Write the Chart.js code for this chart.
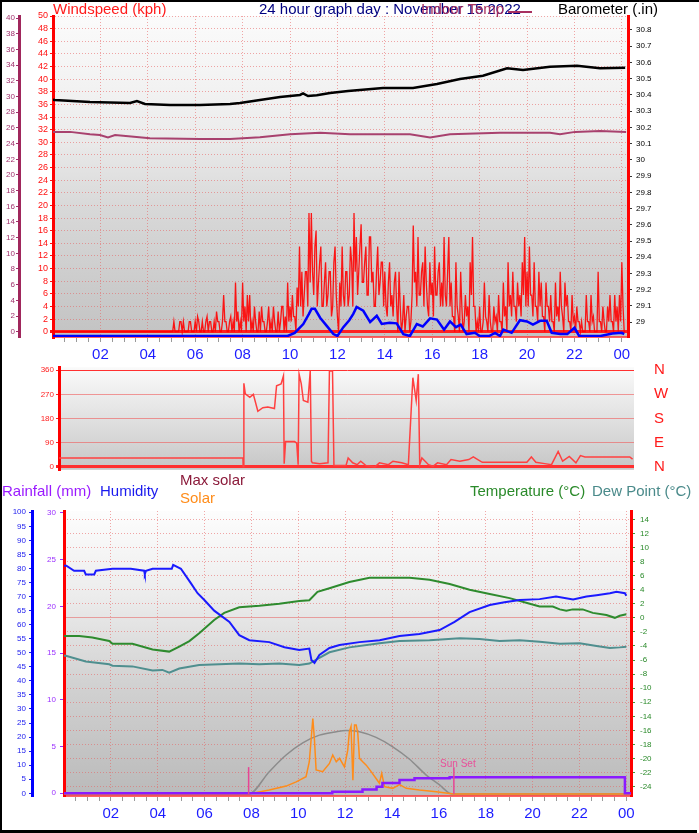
<!DOCTYPE html>
<html>
<head>
<meta charset="utf-8">
<title>24 hour graph</title>
<script src="https://cdn.jsdelivr.net/npm/chart.js@4.4.0/dist/chart.umd.min.js"></script>
<style>
body { margin: 0; background: #fff; width: 699px; height: 833px; position: relative; overflow: hidden; font-family: Arial, "Liberation Sans", sans-serif; }
canvas { position: absolute; left: 0; }
.t { position: absolute; font-size: 15px; line-height: 15px; white-space: nowrap; }
.bar { position: absolute; background: #000; }
</style>
</head>
<body>
<canvas id="c1" style="top:0" width="699" height="365"></canvas>
<canvas id="c2" style="top:362px" width="699" height="113"></canvas>
<canvas id="c3" style="top:475px" width="699" height="355"></canvas>

<div class="t" style="left:53px;top:1px;color:#ff1a1a">Windspeed (kph)</div>
<div class="t" style="left:259px;top:1px;color:#000080">24 hour graph day : November 15 2022</div>
<div class="t" style="left:421px;top:1px;color:#a8305f">Indoor Temp</div>
<div style="position:absolute;left:508px;top:11px;width:24px;height:2px;background:#a8305f"></div>
<div class="t" style="left:558px;top:1px;color:#000">Barometer (.in)</div>

<div class="t" style="left:2px;top:483px;color:#9a1aff">Rainfall (mm)</div>
<div class="t" style="left:100px;top:483px;color:#1a1aee">Humidity</div>
<div class="t" style="left:180px;top:472px;color:#8b1a3a">Max solar</div>
<div class="t" style="left:180px;top:490px;color:#ff8c1a">Solar</div>
<div class="t" style="left:470px;top:483px;color:#2a8a2a">Temperature (°C)</div>
<div class="t" style="left:592px;top:483px;color:#4a8a8a">Dew Point (°C)</div>

<div class="bar" style="left:0;top:0;width:699px;height:2px"></div>
<div class="bar" style="left:0;top:0;width:2px;height:833px"></div>
<div class="bar" style="left:0;top:830px;width:697px;height:3px"></div>

<script>
var FONT = 'Arial, "Liberation Sans", sans-serif';
Chart.defaults.font.family = FONT;

// x axis (hours since midnight)
var hourTicks = [2, 4, 6, 8, 10, 12, 14, 16, 18, 20, 22, 24];
var hourLabels = ['02', '04', '06', '08', '10', '12', '14', '16', '18', '20', '22', '00'];

// top panel: windspeed / barometer / indoor temp
var windTicks = [0, 2, 4, 6, 8, 10, 12, 14, 16, 18, 20, 22, 24, 26, 28, 30, 32, 34, 36, 38, 40, 42, 44, 46, 48, 50];
var indoorTicks = [0, 2, 4, 6, 8, 10, 12, 14, 16, 18, 20, 22, 24, 26, 28, 30, 32, 34, 36, 38, 40];
var baroTicks = [29, 29.1, 29.2, 29.3, 29.4, 29.5, 29.6, 29.7, 29.8, 29.9, 30, 30.1, 30.2, 30.3, 30.4, 30.5, 30.6, 30.7, 30.8];

// gusts sampled every 3 minutes from 05:00
var gustStart = 5.0, gustStep = 0.05;
var gust = [
  0, 0, 1.6, 0, 0, 0, 0, 1.6, 1.6, 0, 1.6, 0, 0, 0, 0, 1.6, 1.6, 0, 0, 0,
  1.6, 0, 2.4, 1.6, 0, 0, 1.6, 0, 0, 1.6, 2.4, 0, 1.6, 1.6, 0, 0, 1.6, 0, 3.2, 1.6,
  1.6, 0, 0, 1.6, 5.8, 1.6, 1.6, 0, 0, 1.6, 2.4, 0, 1.6, 0, 7.8, 1.6, 3.2, 0, 1.6, 0,
  7.8, 1.6, 4, 0, 5.8, 1.6, 5.8, 0, 1.6, 0, 4, 1.6, 0, 0, 3.2, 0, 4, 1.6, 1.6, 0,
  0, 1.6, 4, 0, 1.6, 0, 4, 1.6, 0, 0, 3.2, 0, 1.6, 4, 4, 0, 2.4, 0, 7.8, 1.6,
  4, 1.6, 5.8, 2.4, 2.4, 0, 7, 4, 13.5, 4, 9.5, 2.4, 5.8, 9.5, 9.5, 4, 18.8, 7.8, 18.8, 9.5,
  5.8, 13.5, 16, 4, 7.8, 11, 13.5, 4, 4, 7.8, 11, 4, 5.8, 9.5, 9.5, 2.4, 4, 11, 13.5, 5.8,
  2.4, 0, 7.8, 4, 13.5, 5.8, 4, 9.5, 9.5, 4, 5.8, 13.5, 11, 4, 18.8, 9.5, 15, 5.8, 9.5, 13.5,
  17, 7.8, 7.8, 11, 13.5, 5.8, 5.8, 15, 15, 7.8, 9.5, 4, 4, 9.5, 13.5, 5.8, 7.8, 11, 11, 4,
  9.5, 4, 2.4, 7.8, 11, 4, 5.8, 2.4, 7.8, 9.5, 4, 0, 9.5, 4, 0, 1.6, 5.8, 0, 2.4, 4,
  4, 0, 1.6, 5.8, 16.8, 7.8, 9.5, 4, 15, 5.8, 5.8, 9.5, 11, 4, 13.5, 7.8, 4, 2.4, 11, 5.8,
  7.8, 2.4, 13.5, 5.8, 5.8, 9.5, 11, 4, 7.8, 4, 15, 5.8, 4, 9.5, 15, 4, 7.8, 2.4, 2.4, 0,
  11, 4, 2.4, 0, 9.5, 4, 0, 1.6, 5.8, 2.4, 4, 0, 11, 5.8, 15, 4, 4, 0, 1.6, 0,
  4, 0, 0, 1.6, 7.8, 2.4, 1.6, 0, 5.8, 1.6, 0, 0, 4, 1.6, 2.4, 0, 5.8, 1.6, 1.6, 0,
  7.8, 2.4, 4, 0, 11, 4, 5.8, 2.4, 9.5, 4, 4, 1.6, 7.8, 4, 5.8, 2.4, 11, 5.8, 15, 4,
  9.5, 4, 13.5, 5.8, 5.8, 2.4, 11, 4, 4, 1.6, 9.5, 4, 7.8, 2.4, 2.4, 0, 7.8, 4, 4, 1.6,
  5.8, 1.6, 1.6, 0, 7.8, 2.4, 4, 1.6, 9.5, 4, 2.4, 0, 7.8, 4, 5.8, 1.6, 1.6, 0, 5.8, 1.6,
  2.4, 0, 4, 1.6, 1.6, 0, 1.6, 0, 0, 0, 5.8, 1.6, 1.6, 0, 5.8, 1.6, 2.4, 0, 0, 0,
  9.5, 1.6, 1.6, 0, 4, 1.6, 0, 0, 4, 1.6, 5.8, 1.6, 1.6, 0, 5.8, 1.6, 4, 0, 5.8, 1.6,
  11, 4, 0, 0
];

var avgHours = [0, 9.9, 10.2, 10.56, 10.8, 10.91, 11.05, 11.27, 11.55, 11.83, 12.0, 12.25, 12.5, 12.67, 12.81, 13.09, 13.38, 13.66, 13.87, 14.2, 14.5, 14.78, 15.06, 15.35, 15.6, 15.91, 16.2, 16.5, 16.75, 17.0, 17.2, 17.45, 17.8, 18.0, 18.4, 18.65, 18.86, 19.0, 19.35, 19.7, 20.0, 20.25, 20.55, 20.83, 21.04, 21.4, 21.7, 22.0, 22.2, 23.1, 23.6, 24.0, 24.1];
var avgValues = [0, 0, 0.5, 1.9, 3.5, 4.3, 4.3, 2.9, 1.6, 0.3, 0, 1.4, 2.5, 3.5, 4.6, 4.0, 2.2, 3.2, 1.9, 2.1, 2.0, 0.3, 0, 1.9, 1.5, 2.8, 2.6, 1.0, 2.3, 1.4, 1.8, 0.3, 0.5, 0, 0, 0.5, 0, 1.0, 0.5, 2.5, 2.3, 1.8, 2.4, 2.4, 0.5, 0.3, 0.3, 1.3, 0, 0, 0.4, 0.5, 0.3];

var baroHours = [0, 0.08, 1.56, 3.25, 3.54, 3.88, 4.94, 6.2, 7.47, 7.89, 8.73, 9.58, 10.0, 10.42, 10.55, 10.76, 11.13, 11.69, 12.45, 13.92, 15.19, 16.2, 17.17, 18.14, 19.16, 19.83, 20.97, 22.11, 23.08, 24.14];
var baroValues = [30.37, 30.369, 30.356, 30.35, 30.362, 30.344, 30.338, 30.338, 30.344, 30.35, 30.369, 30.387, 30.393, 30.4, 30.409, 30.393, 30.398, 30.412, 30.424, 30.443, 30.443, 30.467, 30.498, 30.518, 30.564, 30.554, 30.574, 30.58, 30.564, 30.568];

var indoorHours = [0, 0.08, 0.72, 1.56, 1.98, 2.32, 2.62, 4.09, 6.2, 7.47, 8.73, 10.0, 11.27, 12.53, 13.8, 15.06, 15.91, 16.75, 18.86, 20.97, 21.39, 22.03, 23.08, 24.18];
var indoorValues = [25.5, 25.5, 25.5, 25.2, 25.1, 24.8, 25.1, 24.7, 24.6, 24.6, 24.8, 25.2, 25.4, 25.2, 25.2, 25.2, 24.8, 25.2, 25.4, 25.4, 25.2, 25.5, 25.6, 25.5];

// middle panel: wind direction
var dirTicks = [0, 90, 180, 270, 360];
var dirNames = ['N', 'E', 'S', 'W', 'N'];
var dirHours = [0, 7.76, 7.77, 7.8, 7.86, 8.05, 8.2, 8.39, 8.6, 8.81, 9.09, 9.18, 9.37, 9.47, 9.5, 9.56, 9.94, 10.03, 10.09, 10.13, 10.22, 10.31, 10.5, 10.6, 10.65, 10.69, 11.0, 11.35, 11.41, 11.54, 11.6, 12.11, 12.2, 12.39, 12.58, 12.73, 12.95, 13.33, 13.52, 13.9, 14.09, 14.46, 14.74, 14.93, 15.07, 15.16, 15.22, 15.31, 15.59, 15.78, 15.97, 16.35, 16.54, 16.91, 17.29, 17.48, 17.67, 17.86, 19.74, 19.93, 20.12, 20.49, 20.78, 21.06, 21.25, 21.53, 21.81, 22.0, 22.19, 24.08, 24.2];
var dirValues = [33, 33, 0, 311, 272, 259, 270, 207, 220, 223, 217, 302, 309, 339, 12, 94, 94, 88, 8, 345, 310, 247, 241, 357, 21, 15, 12, 15, 357, 357, 5, 5, 33, 15, 8, 21, 5, 0, 15, 8, 21, 15, 8, 332, 247, 345, 8, 33, 8, 2, 15, 8, 27, 21, 27, 37, 27, 17, 17, 37, 17, 12, 8, 57, 21, 39, 15, 42, 37, 37, 29];

// bottom panel
var humTicks = [0, 5, 10, 15, 20, 25, 30, 35, 40, 45, 50, 55, 60, 65, 70, 75, 80, 85, 90, 95, 100];
var rainTicks = [0, 5, 10, 15, 20, 25, 30];
var tempTicks = [-24, -22, -20, -18, -16, -14, -12, -10, -8, -6, -4, -2, 0, 2, 4, 6, 8, 10, 12, 14];

var humHours = [0, 0.1, 0.43, 0.86, 0.93, 1.29, 1.36, 2.07, 2.85, 3.42, 3.45, 3.5, 3.78, 4.6, 4.66, 4.99, 5.42, 5.7, 5.99, 6.41, 7.06, 7.48, 7.91, 8.76, 9.41, 10.04, 10.47, 10.56, 10.69, 10.9, 11.33, 11.76, 12.61, 13.47, 14.32, 15.17, 16.03, 16.67, 17.31, 18.17, 18.8, 19.45, 20.3, 21.0, 21.73, 22.3, 22.73, 23.3, 23.58, 23.94, 24.0];
var humValues = [81, 81, 79.2, 79.2, 77.9, 77.9, 79.2, 79.9, 79.9, 79.2, 78, 79.2, 79.9, 79.9, 81.3, 79.9, 74.7, 71.2, 68.8, 65, 61, 56.3, 54.5, 53.8, 52, 51, 51.5, 47.4, 46.4, 49.2, 51.7, 52.8, 53.8, 54.5, 56, 56.7, 58.1, 61, 64.5, 67, 68, 68.8, 69.1, 70, 69, 70, 70.5, 71.2, 71.7, 71.2, 70.3];

var tempHours = [0, 0.08, 0.65, 1.21, 1.93, 2.07, 2.92, 3.78, 4.49, 4.92, 5.35, 5.77, 6.41, 6.84, 7.48, 8.34, 9.19, 10.04, 10.47, 10.82, 11.33, 12.18, 13.04, 13.89, 14.75, 15.6, 16.46, 17.31, 18.17, 19.02, 19.88, 20.3, 20.86, 21.16, 21.44, 21.71, 22.14, 22.57, 23.15, 23.51, 23.72, 24.0];
var tempValues = [-2.6, -2.6, -2.6, -2.8, -3.3, -3.7, -3.7, -4.5, -4.8, -4.1, -3.3, -2.2, -0.3, 0.7, 1.5, 1.7, 2.0, 2.4, 2.5, 3.7, 4.2, 5.1, 5.7, 5.7, 5.7, 5.4, 4.8, 4.0, 3.4, 2.8, 2.0, 1.6, 1.6, 1.2, 1.0, 1.2, 1.2, 0.7, 0.4, 0.0, 0.3, 0.5];

var dewHours = [0, 0.08, 0.93, 1.93, 2.07, 2.92, 3.78, 4.2, 4.49, 4.92, 5.77, 6.63, 7.48, 8.34, 9.19, 10.04, 10.47, 10.9, 11.33, 12.18, 13.47, 14.32, 15.6, 16.89, 17.74, 18.59, 19.45, 20.3, 21.16, 22.01, 22.73, 23.3, 23.72, 24.0];
var dewValues = [-5.4, -5.4, -6.2, -6.6, -6.8, -6.9, -7.5, -7.4, -7.8, -7.2, -6.7, -6.6, -6.5, -6.6, -6.5, -6.7, -6.5, -5.7, -4.9, -4.2, -3.6, -3.3, -3.2, -2.9, -3.0, -3.3, -3.2, -3.4, -3.7, -3.6, -4.0, -4.3, -4.2, -4.1];

var rainHours = [0, 11.45, 12.74, 13.34, 13.59, 14.32, 14.96, 16.46, 23.94, 24.2];
var rainValues = [0, 0.15, 0.4, 0.7, 1.1, 1.4, 1.6, 1.7, 0, 0];

var solarHours = [0, 7.88, 8.76, 9.48, 9.91, 10.33, 10.47, 10.62, 10.69, 10.76, 11.04, 11.33, 11.47, 11.62, 11.76, 11.97, 12.11, 12.18, 12.25, 12.33, 12.4, 12.47, 12.54, 12.61, 12.75, 12.9, 13.11, 13.32, 13.46, 13.56, 13.68, 14.03, 14.32, 14.61, 15.17, 15.89, 16.46, 16.67, 24.2];
var solarValues = [0, 0, 14, 28, 43, 61, 114, 267, 191, 85, 79, 108, 138, 114, 126, 96, 155, 220, 238, 49, 244, 244, 214, 126, 114, 102, 79, 55, 38, 73, 26, 20, 33, 20, 14, 8, 2, 0, 0];

var maxSolarHours = [0, 7.88, 8.76, 9.48, 10.19, 10.9, 11.62, 12.04, 12.61, 13.32, 14.03, 14.75, 15.46, 16.03, 16.46, 16.6, 24.2];
var maxSolarValues = [0, 0, 79, 138, 181, 208, 220, 224, 220, 200, 167, 123, 67, 32, 2, 0, 0];

var sunRise = 7.88, sunSet = 16.64, sunMark = 95;

function pts(xs, ys) {
  return xs.map(function (x, i) { return { x: x, y: ys[i] }; });
}
function fixed(list) {
  return function (scale) { scale.ticks = list.map(function (v) { return { value: v }; }); };
}
function hourLabel(v) {
  var i = hourTicks.indexOf(v);
  return i < 0 ? '' : hourLabels[i];
}

var halfHours = [];
for (var h = 0.5; h <= 24; h += 0.5) halfHours.push(h);

var gustPts = [{ x: 0, y: 0 }].concat(gust.map(function (v, i) {
  return { x: gustStart + i * gustStep, y: v };
}));

var pinkGrid = 'rgba(232,96,96,0.55)';
var dotted = function (c) { return c.type === 'tick' && c.tick.value !== 0 ? [1, 2] : []; };

var bgPlugin = {
  id: 'bg',
  beforeDraw: function (chart, args, opts) {
    var a = chart.chartArea, c = chart.ctx;
    var g = c.createLinearGradient(0, a.top, 0, a.bottom);
    opts.stops.forEach(function (s) { g.addColorStop(s[0], s[1]); });
    c.save();
    c.fillStyle = g;
    c.fillRect(a.left, a.top, a.right - a.left, a.bottom - a.top);
    c.restore();
  }
};

var sunTextPlugin = {
  id: 'sunText',
  afterDatasetsDraw: function (chart) {
    var c = chart.ctx;
    var x = chart.scales.x.getPixelForValue(sunSet);
    var y = chart.scales.yS.getPixelForValue(sunMark);
    c.save();
    c.fillStyle = '#e8509a';
    c.font = '10px ' + FONT;
    c.textAlign = 'center';
    c.fillText('Sun Set', x + 4, y);
    c.restore();
  }
};

function hourAxis(max, height, pad) {
  return {
    type: 'linear', min: 0, max: max,
    afterBuildTicks: fixed(halfHours),
    afterFit: function (s) { s.height = height; },
    ticks: { autoSkip: false, maxRotation: 0, minRotation: 0, color: '#1c1cff', font: { size: 15 }, padding: pad, callback: hourLabel },
    grid: {
      color: function (c) { return c.tick && c.tick.value % 2 === 0 ? pinkGrid : 'transparent'; },
      tickColor: '#9a9a9a', tickLength: 5
    },
    border: { color: 'rgba(255,60,60,0.8)', width: 2, dash: function (c) { return c.type === 'tick' ? [1, 2] : []; } }
  };
}

var baseOptions = function () {
  return {
    responsive: false, animation: false, events: [],
    elements: { point: { radius: 0 }, line: { tension: 0, fill: false } },
    plugins: { legend: { display: false }, tooltip: { enabled: false } }
  };
};

// top panel
var opt1 = baseOptions();
opt1.layout = { padding: { top: 16 } };
opt1.plugins.bg = { stops: [[0, '#fbfbfb'], [0.35, '#ededed'], [0.6, '#d8d8d8'], [1, '#c3c3c3']] };
opt1.scales = {
  x: hourAxis(24.26, 28, 4),
  yT: {
    position: 'left', weight: 1, min: -0.68, max: 40.29,
    afterBuildTicks: fixed(indoorTicks),
    afterFit: function (s) { s.width = 19; },
    ticks: { autoSkip: false, color: '#a0306c', font: { size: 8 }, padding: 1 },
    grid: { drawOnChartArea: false, tickLength: 3, tickColor: '#a0306c' },
    border: { color: '#a0275c', width: 3 }
  },
  yW: {
    position: 'left', weight: 0, min: -0.84, max: 50,
    afterBuildTicks: fixed(windTicks),
    afterFit: function (s) { s.width = 34; },
    ticks: { autoSkip: false, color: '#ff1010', font: { size: 9 }, padding: 2 },
    grid: {
      color: function (c) { return c.tick && c.tick.value === 0 ? '#ff2020' : pinkGrid; },
      lineWidth: function (c) { return c.tick && c.tick.value === 0 ? 3 : 1; },
      tickLength: 3, tickColor: '#ff1010'
    },
    border: { color: '#ff0000', width: 3, dash: dotted }
  },
  yA: { display: false, min: -0.16, max: 50.68 },
  yB: {
    position: 'right', min: 28.909, max: 30.886,
    afterBuildTicks: fixed(baroTicks),
    afterFit: function (s) { s.width = 71; },
    ticks: { autoSkip: false, color: '#000', font: { size: 8 }, padding: 4, callback: function (v) { return String(Math.round(v * 10) / 10); } },
    grid: { drawOnChartArea: false, tickLength: 4, tickColor: '#333' },
    border: { color: '#ff0000', width: 3 }
  }
};

new Chart(document.getElementById('c1'), {
  type: 'line',
  data: {
    datasets: [
      { data: pts(avgHours, avgValues), yAxisID: 'yA', borderColor: '#0000ff', borderWidth: 2.5 },
      { data: gustPts, yAxisID: 'yW', borderColor: 'rgba(255,0,0,0.9)', borderWidth: 1.3 },
      { data: pts(baroHours, baroValues), yAxisID: 'yB', borderColor: '#000', borderWidth: 2.5 },
      { data: pts(indoorHours, indoorValues), yAxisID: 'yT', borderColor: '#a8416e', borderWidth: 2 }
    ]
  },
  options: opt1,
  plugins: [bgPlugin]
});

// wind direction panel
var opt2 = baseOptions();
opt2.layout = { padding: { top: 4, bottom: 5 } };
opt2.plugins.bg = { stops: [[0, '#fafafa'], [0.4, '#e6e6e6'], [1, '#c6c6c6']] };
opt2.scales = {
  x: { type: 'linear', display: false, min: 0, max: 24.26 },
  y: {
    position: 'left', min: -11, max: 371,
    afterBuildTicks: fixed(dirTicks),
    afterFit: function (s) { s.width = 59; },
    ticks: { autoSkip: false, color: '#ff2020', font: { size: 8, lineHeight: 0.8 }, padding: 2 },
    grid: {
      color: function (c) { return c.tick && (c.tick.value === 0 || c.tick.value === 360) ? '#ff3030' : 'rgba(240,90,90,0.6)'; },
      lineWidth: function (c) { return c.tick && c.tick.value === 0 ? 3 : 1; },
      tickLength: 3, tickColor: '#ff2020'
    },
    border: { color: '#ff0000', width: 3 }
  },
  yN: {
    position: 'right', min: -11, max: 371,
    afterBuildTicks: fixed(dirTicks),
    afterFit: function (s) { s.width = 65; },
    ticks: { autoSkip: false, color: '#ff1a1a', font: { size: 15, lineHeight: 0.5 }, padding: 0, callback: function (v) { return dirNames[dirTicks.indexOf(v)]; } },
    grid: { drawOnChartArea: false, drawTicks: true, tickLength: 20, tickColor: 'transparent' },
    border: { display: false }
  }
};

new Chart(document.getElementById('c2'), {
  type: 'line',
  data: {
    datasets: [
      { data: pts(dirHours, dirValues), yAxisID: 'y', borderColor: '#ff4040', borderWidth: 1.5 }
    ]
  },
  options: opt2,
  plugins: [bgPlugin]
});

// bottom panel
var opt3 = baseOptions();
opt3.layout = { padding: { top: 36 } };
opt3.plugins.bg = { stops: [[0, '#fdfdfd'], [0.3, '#ececec'], [0.6, '#d2d2d2'], [1, '#bababa']] };
opt3.scales = {
  x: hourAxis(24.2, 34, 4),
  yH: {
    position: 'left', weight: 1, min: -0.96, max: 100.46,
    afterBuildTicks: fixed(humTicks),
    afterFit: function (s) { s.width = 32; },
    ticks: { autoSkip: false, color: '#1a1aee', font: { size: 8 }, padding: 3 },
    grid: { drawOnChartArea: false, tickLength: 3, tickColor: '#1a1aee' },
    border: { color: '#0000ff', width: 3 }
  },
  yR: {
    position: 'left', weight: 0, min: -0.3, max: 30.2,
    afterBuildTicks: fixed(rainTicks),
    afterFit: function (s) { s.width = 32; },
    ticks: { autoSkip: false, color: '#9b30ff', font: { size: 8 }, padding: 4 },
    grid: { drawOnChartArea: false, tickLength: 4, tickColor: '#9b30ff' },
    border: { color: '#ff0000', width: 3 }
  },
  yTemp: {
    position: 'right', min: -25.32, max: 15.18,
    afterBuildTicks: fixed(tempTicks),
    afterFit: function (s) { s.width = 68; },
    ticks: { autoSkip: false, color: '#2a8a2a', font: { size: 8 }, padding: 5 },
    grid: { color: pinkGrid, tickLength: 4, tickColor: '#3a9a3a' },
    border: { color: '#ff0000', width: 3, dash: dotted }
  },
  yS: { display: false, min: -7, max: 1000 }
};

new Chart(document.getElementById('c3'), {
  type: 'line',
  data: {
    datasets: [
      { data: [{ x: sunRise, y: 0 }, { x: sunRise, y: sunMark }], yAxisID: 'yS', borderColor: '#e64595', borderWidth: 1.5 },
      { data: [{ x: sunSet, y: 0 }, { x: sunSet, y: sunMark }], yAxisID: 'yS', borderColor: '#e64595', borderWidth: 1.5 },
      { data: pts(rainHours, rainValues), yAxisID: 'yR', borderColor: '#8a1aff', borderWidth: 2.5, stepped: true },
      { data: pts(solarHours, solarValues), yAxisID: 'yS', borderColor: '#ff8c1a', borderWidth: 1.5 },
      { data: pts(maxSolarHours, maxSolarValues), yAxisID: 'yS', borderColor: '#8c8c8c', borderWidth: 1.5, cubicInterpolationMode: 'monotone' },
      { data: pts(humHours, humValues), yAxisID: 'yH', borderColor: '#1a1aff', borderWidth: 2 },
      { data: pts(tempHours, tempValues), yAxisID: 'yTemp', borderColor: '#2e8b2e', borderWidth: 2 },
      { data: pts(dewHours, dewValues), yAxisID: 'yTemp', borderColor: '#4f8f8f', borderWidth: 2 }
    ]
  },
  options: opt3,
  plugins: [bgPlugin, sunTextPlugin]
});
</script>
</body>
</html>
